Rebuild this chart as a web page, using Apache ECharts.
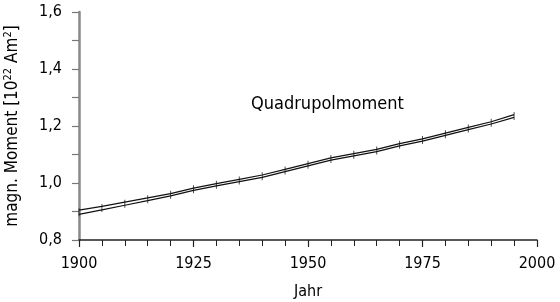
<!DOCTYPE html>
<html>
<head>
<meta charset="utf-8">
<script src="https://cdn.jsdelivr.net/npm/echarts@6/dist/echarts.min.js"></script>
<style>html,body{margin:0;padding:0;background:#fff}#c{width:560px;height:302px}</style>
</head>
<body>
<div id="c"></div>
<script>
const years = [1900,1905,1910,1915,1920,1925,1930,1935,1940,1945,1950,1955,1960,1965,1970,1975,1980,1985,1990,1995];
const upper = [0.905,0.918,0.933,0.948,0.963,0.982,0.998,1.013,1.028,1.048,1.068,1.088,1.103,1.118,1.138,1.155,1.175,1.195,1.215,1.240];
const lower = [0.890,0.906,0.922,0.938,0.955,0.974,0.990,1.005,1.020,1.040,1.060,1.080,1.095,1.110,1.130,1.147,1.167,1.187,1.207,1.230];
const xTicks = [1900,1925,1950,1975,2000];
const yTicks = [0.8,1.0,1.2,1.4,1.6];
const seriesLabel = 'Quadrupolmoment';

const FONT = "'DejaVu Sans Condensed','Liberation Sans Narrow',sans-serif";
const chart = echarts.init(document.getElementById('c'), null, {renderer:'canvas'});
const pts = a => years.map((y,i)=>[y,a[i]]);
chart.setOption({
  animation:false,
  backgroundColor:'#fff',
  title:{text:seriesLabel,left:246,top:90,textStyle:{fontFamily:FONT,fontSize:18,fontWeight:'normal',color:'#000'}},
  grid:{left:79,right:23,top:12,bottom:62,containLabel:false,outerBoundsMode:'none'},
  xAxis:{type:'value',min:1900,max:2000,interval:25,
    name:'Jahr',nameLocation:'middle',nameGap:44,
    nameTextStyle:{fontFamily:FONT,fontSize:16,color:'#000'},
    axisLine:{lineStyle:{color:'#222',width:1.5}},
    axisTick:{show:true,length:7,lineStyle:{color:'#222',width:1.2}},
    minorTick:{show:true,splitNumber:5,length:6,lineStyle:{color:'#222',width:1}},
    splitLine:{show:false},
    axisLabel:{margin:16,fontFamily:FONT,fontSize:16,color:'#000',
      formatter:v=>xTicks.includes(v)?String(v):''}
  },
  yAxis:{type:'value',min:0.8,max:1.6,interval:0.2,
    name:'magn. Moment [10{s|22} Am{s|2}]',nameLocation:'middle',nameRotate:90,nameGap:56,
    nameTextStyle:{fontFamily:FONT,fontSize:17,color:'#000',
      rich:{s:{fontFamily:FONT,fontSize:11,verticalAlign:'top',padding:[0,0,9,0],color:'#000'}}},
    axisLine:{show:true,lineStyle:{color:'#888',width:2.5}},
    axisTick:{show:true,length:7,lineStyle:{color:'#777',width:1.2}},
    minorTick:{show:true,splitNumber:2,length:7,lineStyle:{color:'#777',width:1.2}},
    splitLine:{show:false},
    axisLabel:{margin:17,fontFamily:FONT,fontSize:16,color:'#000',
      formatter:v=>{const r=Math.round(v*10)/10;return yTicks.some(t=>Math.abs(t-r)<1e-9)?r.toFixed(1).replace('.',','):'';}}
  },
  series:[
    {type:'line',data:pts(upper),showSymbol:false,smooth:false,lineStyle:{color:'#111',width:1.2}},
    {type:'line',data:pts(lower),showSymbol:false,smooth:false,lineStyle:{color:'#111',width:1.2}},
    {type:'scatter',data:years.map((y,i)=>[y,(upper[i]+lower[i])/2]),symbol:'rect',symbolSize:[1,8],itemStyle:{color:'#222'}}
  ]
});
</script>
</body>
</html>
